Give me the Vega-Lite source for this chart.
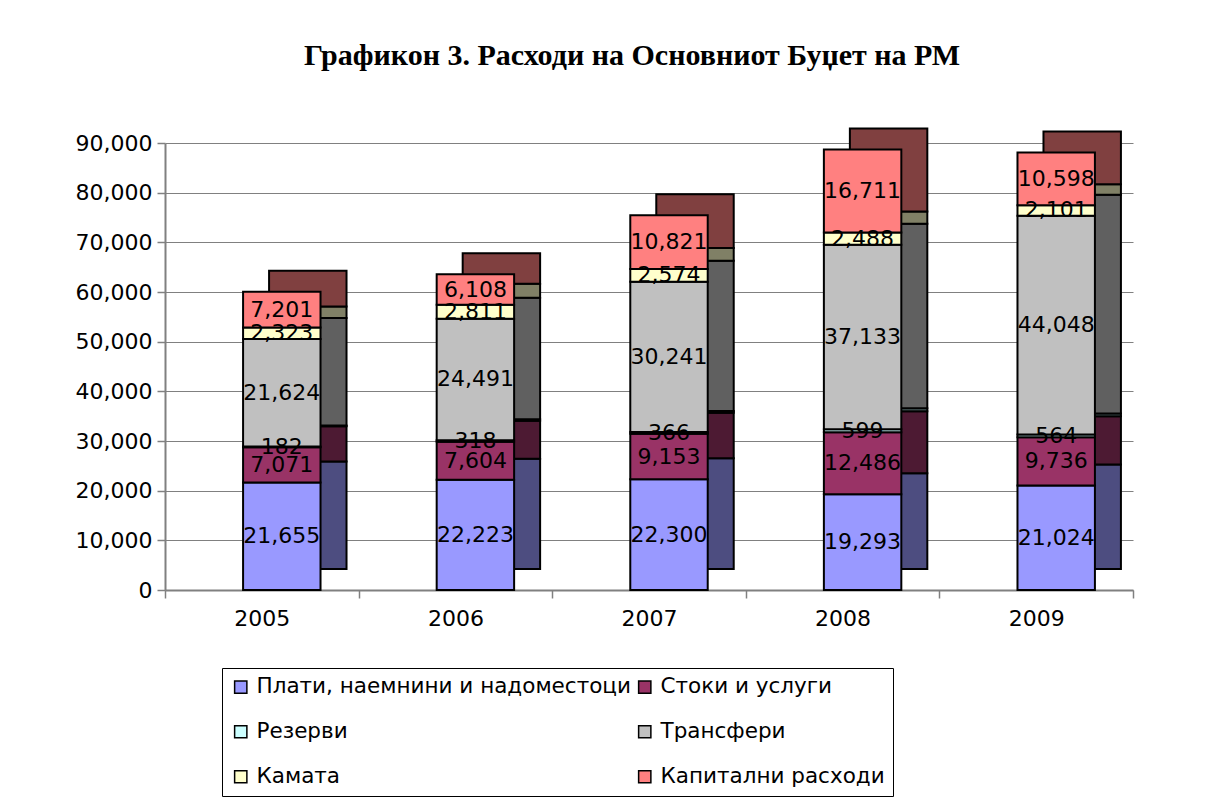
{
  "$schema": "https://vega.github.io/schema/vega-lite/v6.json",
  "width": 968,
  "height": 447,
  "autosize": {"type": "none"},
  "padding": {"left": 165, "top": 143, "right": 94, "bottom": 215},
  "background": "white",
  "title": {
    "text": "Графикон 3. Расходи на Основниот Буџет на РМ",
    "font": "Liberation Serif",
    "fontSize": 30,
    "fontWeight": "bold",
    "color": "black",
    "anchor": "middle",
    "dx": -17,
    "offset": 56
  },
  "data": {
    "values": [
      {"year": "2005", "cat": "Плати, наемнини и надоместоци", "idx": 0, "value": 21655},
      {"year": "2005", "cat": "Стоки и услуги", "idx": 1, "value": 7071},
      {"year": "2005", "cat": "Резерви", "idx": 2, "value": 182},
      {"year": "2005", "cat": "Трансфери", "idx": 3, "value": 21624},
      {"year": "2005", "cat": "Камата", "idx": 4, "value": 2323},
      {"year": "2005", "cat": "Капитални расходи", "idx": 5, "value": 7201},
      {"year": "2006", "cat": "Плати, наемнини и надоместоци", "idx": 0, "value": 22223},
      {"year": "2006", "cat": "Стоки и услуги", "idx": 1, "value": 7604},
      {"year": "2006", "cat": "Резерви", "idx": 2, "value": 318},
      {"year": "2006", "cat": "Трансфери", "idx": 3, "value": 24491},
      {"year": "2006", "cat": "Камата", "idx": 4, "value": 2811},
      {"year": "2006", "cat": "Капитални расходи", "idx": 5, "value": 6108},
      {"year": "2007", "cat": "Плати, наемнини и надоместоци", "idx": 0, "value": 22300},
      {"year": "2007", "cat": "Стоки и услуги", "idx": 1, "value": 9153},
      {"year": "2007", "cat": "Резерви", "idx": 2, "value": 366},
      {"year": "2007", "cat": "Трансфери", "idx": 3, "value": 30241},
      {"year": "2007", "cat": "Камата", "idx": 4, "value": 2574},
      {"year": "2007", "cat": "Капитални расходи", "idx": 5, "value": 10821},
      {"year": "2008", "cat": "Плати, наемнини и надоместоци", "idx": 0, "value": 19293},
      {"year": "2008", "cat": "Стоки и услуги", "idx": 1, "value": 12486},
      {"year": "2008", "cat": "Резерви", "idx": 2, "value": 599},
      {"year": "2008", "cat": "Трансфери", "idx": 3, "value": 37133},
      {"year": "2008", "cat": "Камата", "idx": 4, "value": 2488},
      {"year": "2008", "cat": "Капитални расходи", "idx": 5, "value": 16711},
      {"year": "2009", "cat": "Плати, наемнини и надоместоци", "idx": 0, "value": 21024},
      {"year": "2009", "cat": "Стоки и услуги", "idx": 1, "value": 9736},
      {"year": "2009", "cat": "Резерви", "idx": 2, "value": 564},
      {"year": "2009", "cat": "Трансфери", "idx": 3, "value": 44048},
      {"year": "2009", "cat": "Камата", "idx": 4, "value": 2101},
      {"year": "2009", "cat": "Капитални расходи", "idx": 5, "value": 10598}
    ]
  },
  "encoding": {
    "x": {
      "field": "year",
      "type": "nominal",
      "scale": {"paddingInner": 0, "paddingOuter": 0},
      "axis": {"title": null, "labelAngle": 0, "tickBand": "extent", "labelPadding": 10, "grid": false}
    },
    "y": {
      "field": "value",
      "type": "quantitative",
      "stack": "zero",
      "scale": {"domain": [0, 90000], "nice": false},
      "axis": {
        "title": null,
        "format": ",d",
        "values": [0, 10000, 20000, 30000, 40000, 50000, 60000, 70000, 80000, 90000],
        "grid": true,
        "labelPadding": 5
      }
    },
    "order": {"field": "idx", "type": "quantitative"}
  },
  "layer": [
    {
      "mark": {"type": "bar", "width": {"band": 0.4}, "stroke": "black", "strokeWidth": 2, "xOffset": 46, "yOffset": -21},
      "encoding": {
        "color": {
          "field": "cat",
          "type": "nominal",
          "scale": {
            "domain": ["Плати, наемнини и надоместоци", "Стоки и услуги", "Резерви", "Трансфери", "Камата", "Капитални расходи"],
            "range": ["#4d4d80", "#4d1a33", "#668080", "#606060", "#808066", "#804040"]
          },
          "legend": null
        }
      }
    },
    {
      "mark": {"type": "bar", "width": {"band": 0.4}, "stroke": "black", "strokeWidth": 2, "xOffset": 20},
      "encoding": {
        "color": {
          "field": "cat",
          "type": "nominal",
          "scale": {
            "domain": ["Плати, наемнини и надоместоци", "Стоки и услуги", "Резерви", "Трансфери", "Камата", "Капитални расходи"],
            "range": ["#9999FF", "#993366", "#CCFFFF", "#C0C0C0", "#FFFFCC", "#FF8080"]
          },
          "legend": {
            "title": null,
            "orient": "none",
            "direction": "horizontal",
            "legendX": 57,
            "legendY": 525,
            "columns": 2
          }
        }
      }
    },
    {
      "mark": {"type": "text", "font": "DejaVu Sans", "fontSize": 22, "color": "black", "xOffset": 20, "baseline": "middle"},
      "encoding": {
        "y": {
          "field": "value",
          "type": "quantitative",
          "stack": "zero",
          "bandPosition": 0.5
        },
        "text": {"field": "value", "type": "quantitative", "format": ",d"}
      }
    }
  ],
  "resolve": {"scale": {"color": "independent"}, "legend": {"color": "independent"}},
  "config": {
    "view": {"stroke": null},
    "axis": {
      "labelFont": "DejaVu Sans",
      "labelFontSize": 22,
      "labelColor": "black",
      "domainColor": "#808080",
      "domainWidth": 2,
      "tickColor": "#808080",
      "tickWidth": 1.5,
      "tickSize": 8,
      "gridColor": "#808080",
      "gridWidth": 1
    },
    "legend": {
      "strokeColor": "black",
      "strokeWidth": 1,
      "fillColor": "white",
      "padding": 8,
      "labelFont": "DejaVu Sans",
      "labelFontSize": 21.5,
      "labelColor": "black",
      "labelLimit": 500,
      "symbolType": "square",
      "symbolSize": 150,
      "symbolStrokeColor": "black",
      "symbolStrokeWidth": 1.5,
      "rowPadding": 22,
      "columnPadding": 3,
      "labelOffset": 5
    }
  }
}
